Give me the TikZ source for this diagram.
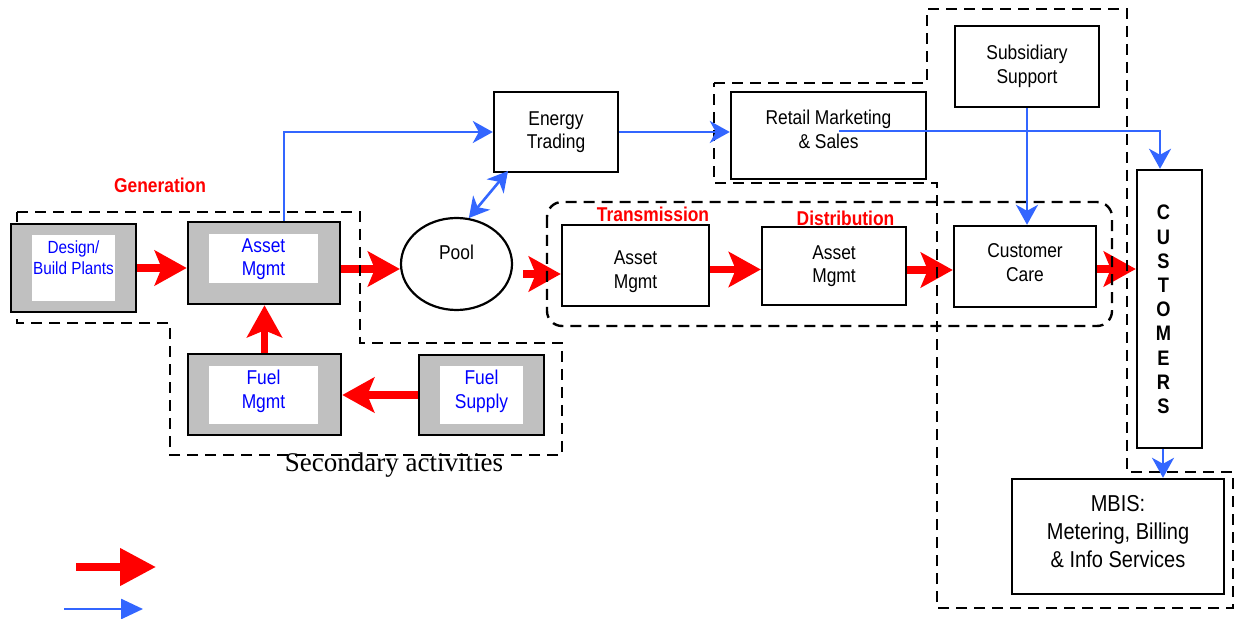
\documentclass[tikz,border=0pt]{standalone}
\usepackage{fontspec}
\setmainfont{Liberation Serif}
\newfontfamily\boxsans[FakeStretch=0.87]{Liberation Sans}
\usetikzlibrary{arrows.meta,shapes.geometric}
\definecolor{linkblue}{RGB}{51,102,255}
\definecolor{shellgray}{RGB}{192,192,192}
\pgfdeclarelayer{background}
\pgfsetlayers{background,main}

\begin{document}
\begin{tikzpicture}[x=0.5pt,y=-0.5pt,
  box/.style={draw, line width=1.2pt, fill=white, inner sep=0pt, align=center, font=\boxsans\fontsize{10}{11.75}\selectfont},
  shell/.style={draw, line width=1.3pt, fill=shellgray, inner sep=0pt},
  pane/.style={fill=white, inner sep=0pt},
  panetext/.style={text=blue, align=center, inner sep=0pt, font=\boxsans\fontsize{10}{11.75}\selectfont},
  flow/.style={red, line width=3.75pt, -{Stealth[length=16pt,width=17.5pt,inset=3.5pt]}},
  link/.style={linkblue, line width=1.3pt, -{Stealth[length=10pt,width=11pt,inset=3pt]}},
  region/.style={draw, line width=1.2pt, dash pattern=on 5.5pt off 3.5pt},
  tag/.style={text=red, inner sep=0pt, font=\boxsans\bfseries\fontsize{10}{12}\selectfont}]
\useasboundingbox (0,0) rectangle (1235,619);

% generation side
\node[shell, minimum width=62.5pt, minimum height=44pt] (design) at (73.5,268) {};
\node[pane, minimum width=41.5pt, minimum height=33pt] (designpane) at (73.5,268) {};
\node[panetext, font=\boxsans\fontsize{8.8}{10.5}\selectfont] (designtxt) at (73.5,257.5) {Design/\\Build Plants};
\node[shell, minimum width=76pt, minimum height=41pt] (assetg) at (264,263) {};
\node[pane, minimum width=54.5pt, minimum height=24.5pt] (assetgpane) at (263.5,258.5) {};
\node[panetext] (assetgtxt) at (263.5,259) {Asset\\Mgmt};
\node[shell, minimum width=76.5pt, minimum height=40.5pt] (fuelm) at (264.5,394.5) {};
\node[pane, minimum width=54.5pt, minimum height=29pt] (fuelmpane) at (263.5,395) {};
\node[panetext] (fuelmtxt) at (263.5,391.5) {Fuel\\Mgmt};
\node[shell, minimum width=62.5pt, minimum height=40pt] (fuels) at (481.5,395) {};
\node[pane, minimum width=41.5pt, minimum height=29pt] (fuelspane) at (481.5,395) {};
\node[panetext] (fuelstxt) at (481.5,391.5) {Fuel\\Supply};

\node[draw, ellipse, line width=1.1pt, fill=white, minimum width=55.5pt, minimum height=46pt, inner sep=0pt] (pool) at (456.5,264) {};
\node[panetext, text=black] (pooltxt) at (456.5,252) {Pool};

% trading, wires, retail
\node[box, minimum width=62pt, minimum height=40pt] (et) at (556,132) {Energy\\Trading};
\node[box, minimum width=97.5pt, minimum height=43.5pt, text depth=6pt] (rms) at (828.5,135.5) {Retail Marketing\\\& Sales};
\node[box, minimum width=72pt, minimum height=40.5pt] (ss) at (1027,66.5) {Subsidiary\\Support};
\node[box, minimum width=73.5pt, minimum height=40.5pt, text height=25pt] (tam) at (635.5,265.5) {Asset\\Mgmt};
\node[box, minimum width=72pt, minimum height=39pt] (dam) at (834,266) {Asset\\Mgmt};
\node[box, minimum width=71pt, minimum height=40.5pt, text depth=4pt] (cc) at (1025,266.5) {Customer\\Care};
\node[box, minimum width=32.5pt, minimum height=139pt] (cust) at (1169.5,309) {};
\node[inner sep=0pt, align=center, font=\boxsans\bfseries\fontsize{10.5}{12.1}\selectfont] (custtxt) at (1163.5,309.5) {C\\U\\S\\T\\O\\M\\E\\R\\S};
\node[box, minimum width=106pt, minimum height=57.5pt, text depth=5pt, font=\boxsans\fontsize{11.5}{14}\selectfont] (mbis) at (1118,536.5) {MBIS:\\Metering, Billing\\\& Info Services};

\node[tag] (gentag) at (160,185) {Generation};
\node[tag] (transtag) at (653,214) {Transmission};
\node[tag] (disttag) at (845.5,218) {Distribution};
\node[inner sep=0pt, font=\fontsize{13.5}{16}\selectfont] (sectag) at (394,465) {Secondary activities};

\begin{pgfonlayer}{background}
% energy flow
\draw[flow] (design.east) -- (design.east -| assetg.west);
\draw[flow] ([yshift=-3pt]assetg.east) -- ([yshift=-3pt]assetg.east -| pool.west);
\coordinate (poolout) at (523,274);
\draw[flow] (poolout) -- (poolout -| tam.west);
\draw[flow] ([yshift=-2pt]tam.east) -- ([yshift=-2pt]tam.east -| dam.west);
\draw[flow] ([yshift=-2pt]dam.east) -- ([yshift=-2pt]dam.east -| cc.west);
\draw[flow] ([yshift=-1.25pt]cc.east) -- ([yshift=-1.25pt]cc.east -| cust.west);
\draw[flow] (fuelm.north) -- (fuelm.north |- assetg.south);
\draw[flow] (fuels.west) -- (fuels.west -| fuelm.east);

% groupings
\draw[region] (17,212) -- (360,212) -- (360,343) -- (562,343) -- (562,455)
  -- (170,455) -- (170,323) -- (17,323) -- cycle;
\draw[region, rounded corners=7.5pt] (547,202) rectangle (1112,326);
\draw[region] (714,83) -- (927,83) -- (927,9) -- (1127,9) -- (1127,472)
  -- (1233,472) -- (1233,608) -- (937,608) -- (937,183) -- (714,183) -- cycle;
\end{pgfonlayer}

% information flow
\draw[link] ([xshift=10pt]assetg.north) |- (et.west);
\coordinate (etfoot) at (508,171);
\draw[linkblue, line width=1.3pt, {Stealth[length=10pt,width=11pt,inset=3pt]}-{Stealth[length=10pt,width=11pt,inset=3pt]}] (etfoot) -- (pool.75);
\draw[link] (et.east) -- (et.east -| rms.west);
\coordinate (rmsin) at (839,131);
\draw[link] (rmsin) -| ([xshift=-4.75pt]cust.north);
\draw[link] (ss.south) -- (ss.south |- cc.north);
\draw[link] ([xshift=-3.25pt]cust.south) -- ([xshift=-3.25pt]cust.south |- mbis.north);

% key
\coordinate (redfrom) at (76,567);
\coordinate (redto) at (156,567);
\draw[red, line width=3.75pt, -{Triangle[length=18pt,width=18pt]}] (redfrom) -- (redto);
\coordinate (bluefrom) at (64,609);
\coordinate (blueto) at (143,609);
\draw[linkblue, line width=1.3pt, -{Triangle[length=11pt,width=10pt]}] (bluefrom) -- (blueto);
\end{tikzpicture}
\end{document}
